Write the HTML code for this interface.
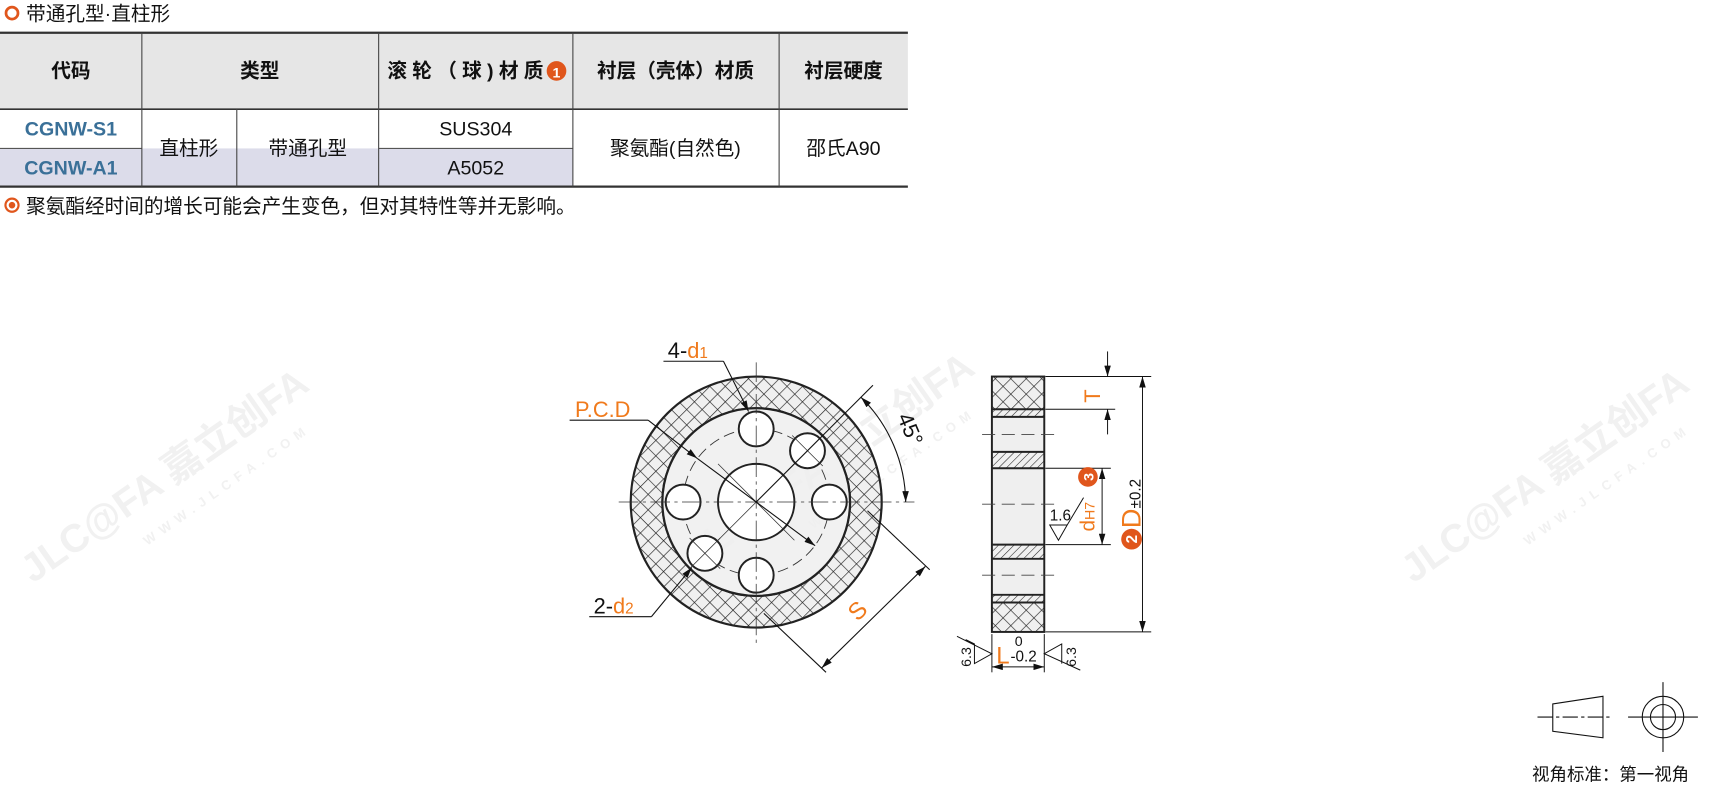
<!DOCTYPE html>
<html><head><meta charset="utf-8"><style>
html,body{margin:0;padding:0;background:#fff;}
svg{display:block;}
text{font-family:"Liberation Sans","Noto Sans CJK SC",sans-serif;}
</style></head><body>
<svg width="1711" height="788" viewBox="0 0 1568 722" preserveAspectRatio="none" xmlns="http://www.w3.org/2000/svg">
<defs>
<pattern id="xh" width="10" height="10" patternUnits="userSpaceOnUse" patternTransform="rotate(45)">
<rect width="10" height="10" fill="#f0f0f0"/>
<line x1="0" y1="0" x2="10" y2="0" stroke="#222" stroke-width="1.2"/>
<line x1="0" y1="0" x2="0" y2="10" stroke="#222" stroke-width="1.2"/>
</pattern>
<pattern id="hh" width="5" height="5" patternUnits="userSpaceOnUse" patternTransform="rotate(-45)">
<rect width="5" height="5" fill="#f0f0f0"/>
<line x1="0" y1="0" x2="5" y2="0" stroke="#222" stroke-width="1"/>
</pattern>
<marker id="ar" markerWidth="10" markerHeight="6" refX="10" refY="3" orient="auto" markerUnits="userSpaceOnUse">
<path d="M0,0 L10,3 L0,6 z" fill="#111"/></marker>
<marker id="as" markerWidth="10" markerHeight="6" refX="0" refY="3" orient="auto" markerUnits="userSpaceOnUse">
<path d="M10,0 L0,3 L10,6 z" fill="#111"/></marker>
</defs>

<circle cx="11" cy="12" r="5.5" fill="none" stroke="#e0561c" stroke-width="2.5"/>
<text x="24" y="19" font-size="18" fill="#111">带通孔型·直柱形</text>

<rect x="0" y="30" width="832" height="70" fill="#e6e6e6"/>
<rect x="0" y="136" width="525" height="35" fill="#dcdcea"/>
<line x1="0" y1="30" x2="832" y2="30" stroke="#333" stroke-width="2"/>
<line x1="0" y1="100" x2="832" y2="100" stroke="#333" stroke-width="1.5"/>
<line x1="0" y1="171" x2="832" y2="171" stroke="#333" stroke-width="2"/>
<line x1="0" y1="136" x2="130" y2="136" stroke="#555" stroke-width="1"/>
<line x1="347" y1="136" x2="525" y2="136" stroke="#555" stroke-width="1"/>
<g stroke="#444" stroke-width="1">
<line x1="130" y1="30" x2="130" y2="171"/>
<line x1="217" y1="100" x2="217" y2="171"/>
<line x1="347" y1="30" x2="347" y2="171"/>
<line x1="525" y1="30" x2="525" y2="171"/>
<line x1="714" y1="30" x2="714" y2="171"/>
</g>
<g font-size="18" font-weight="bold" fill="#111" text-anchor="middle">
<text x="65" y="71">代码</text>
<text x="238" y="71">类型</text>
<text x="619" y="71">衬层（壳体）材质</text>
<text x="773" y="71">衬层硬度</text>
</g>
<text x="355" y="71" font-size="18" font-weight="bold" fill="#111" textLength="143" lengthAdjust="spacing">滚轮（球)材质</text>
<circle cx="510" cy="65" r="9" fill="#e0561c"/>
<text x="510" y="71" font-size="13" font-weight="bold" fill="#fff" text-anchor="middle">1</text>
<g font-size="18" font-weight="bold" fill="#3a7098" text-anchor="middle">
<text x="65" y="124">CGNW-S1</text>
<text x="65" y="160">CGNW-A1</text>
</g>
<g font-size="18" fill="#111" text-anchor="middle">
<text x="173" y="142">直柱形</text>
<text x="282" y="142">带通孔型</text>
<text x="436" y="124">SUS304</text>
<text x="436" y="160">A5052</text>
<text x="619" y="142">聚氨酯(自然色)</text>
<text x="773" y="142">邵氏A90</text>
</g>

<circle cx="11" cy="188" r="6" fill="none" stroke="#e0561c" stroke-width="2"/>
<circle cx="11" cy="188" r="3" fill="#e0561c"/>
<text x="24" y="195" font-size="18" fill="#111">聚氨酯经时间的增长可能会产生变色，但对其特性等并无影响。</text>

<g fill="#f1f1f1" font-weight="bold">
<text x="0" y="0" font-size="36" transform="translate(30,535) rotate(-35)">JLC@FA 嘉立创FA</text>
<text x="0" y="0" font-size="12" transform="translate(135,500) rotate(-35)" letter-spacing="6">WWW.JLCFA.COM</text>
<text x="0" y="0" font-size="36" transform="translate(640,520) rotate(-35)">JLC@FA 嘉立创FA</text>
<text x="0" y="0" font-size="12" transform="translate(745,485) rotate(-35)" letter-spacing="6">WWW.JLCFA.COM</text>
<text x="0" y="0" font-size="36" transform="translate(1295,535) rotate(-35)">JLC@FA 嘉立创FA</text>
<text x="0" y="0" font-size="12" transform="translate(1400,500) rotate(-35)" letter-spacing="6">WWW.JLCFA.COM</text>
</g>

<path d="M578,460 a115,115 0 1,0 230,0 a115,115 0 1,0 -230,0 Z M607,460 a86,86 0 1,0 172,0 a86,86 0 1,0 -172,0 Z" fill="url(#xh)" fill-rule="evenodd" stroke="#222" stroke-width="2"/>
<circle cx="693" cy="460" r="86" fill="#efefef" fill-opacity="0.85" stroke="#222" stroke-width="2"/>
<circle cx="693" cy="460" r="67" fill="none" stroke="#333" stroke-width="0.8" stroke-dasharray="10,5"/>
<g fill="#fff" stroke="#222" stroke-width="1.8">
<circle cx="693" cy="460" r="35"/>
<circle cx="693" cy="393" r="16"/>
<circle cx="760" cy="460" r="16"/>
<circle cx="693" cy="527" r="16"/>
<circle cx="626" cy="460" r="16"/>
<circle cx="740" cy="413" r="16"/>
<circle cx="646" cy="507" r="16"/>
</g>
<g stroke="#333" stroke-width="0.7">
<line x1="567" y1="460" x2="838" y2="460" stroke-dasharray="18,4,3,4"/>
<line x1="693" y1="332" x2="693" y2="590" stroke-dasharray="18,4,3,4"/>
<line x1="658" y1="425" x2="728" y2="495"/>
<line x1="658" y1="495" x2="728" y2="425"/>
<line x1="726" y1="399" x2="754" y2="427"/><line x1="726" y1="427" x2="754" y2="399"/>
<line x1="632" y1="493" x2="660" y2="521"/><line x1="632" y1="521" x2="660" y2="493"/>
</g>
<g stroke="#111" stroke-width="1" fill="none">
<line x1="693" y1="460" x2="800" y2="353"/>
<path d="M789,364 A137,137 0 0,1 830,460" marker-start="url(#as)" marker-end="url(#ar)"/>
</g>
<text x="0" y="0" font-size="20" fill="#111" transform="translate(822,382) rotate(67)">45°</text>
<g stroke="#111" stroke-width="1">
<line x1="795" y1="468" x2="852" y2="522"/>
<line x1="700" y1="562" x2="757" y2="616"/>
<line x1="848" y1="519" x2="753" y2="612" marker-start="url(#as)" marker-end="url(#ar)"/>
</g>
<text x="0" y="0" font-size="22" fill="#f07a1c" transform="translate(786,570) rotate(-45)">S</text>
<g stroke="#111" stroke-width="1" fill="none">
<line x1="608" y1="331" x2="663" y2="331"/>
<line x1="663" y1="331" x2="686" y2="377" marker-end="url(#ar)"/>
<line x1="522" y1="385" x2="594" y2="385"/>
<line x1="594" y1="385" x2="639" y2="420" marker-end="url(#ar)"/>
<line x1="639" y1="420" x2="747" y2="500" marker-end="url(#ar)"/>
<line x1="540" y1="565" x2="597" y2="565"/>
<line x1="597" y1="565" x2="634" y2="520" marker-end="url(#ar)"/>
</g>
<text x="612" y="328" font-size="20" fill="#111">4-<tspan fill="#f07a1c">d<tspan font-size="14">1</tspan></tspan></text>
<text x="527" y="382" font-size="20" fill="#f07a1c">P.C.D</text>
<text x="544" y="562" font-size="20" fill="#111">2-<tspan fill="#f07a1c">d<tspan font-size="14">2</tspan></tspan></text>

<rect x="909" y="345" width="48" height="30" fill="url(#xh)"/>
<rect x="909" y="375" width="48" height="7" fill="url(#hh)"/>
<rect x="909" y="382" width="48" height="32" fill="#efefef"/>
<rect x="909" y="414" width="48" height="15" fill="url(#hh)"/>
<rect x="909" y="429" width="48" height="70" fill="#efefef"/>
<rect x="909" y="499" width="48" height="13" fill="url(#hh)"/>
<rect x="909" y="512" width="48" height="33" fill="#efefef"/>
<rect x="909" y="545" width="48" height="7" fill="url(#hh)"/>
<rect x="909" y="552" width="48" height="27" fill="url(#xh)"/>
<g stroke="#222" stroke-width="1.8" fill="none">
<rect x="909" y="345" width="48" height="234"/>
<line x1="909" y1="375" x2="957" y2="375"/><line x1="909" y1="382" x2="957" y2="382"/>
<line x1="909" y1="414" x2="957" y2="414"/><line x1="909" y1="429" x2="957" y2="429"/>
<line x1="909" y1="499" x2="957" y2="499"/><line x1="909" y1="512" x2="957" y2="512"/>
<line x1="909" y1="545" x2="957" y2="545"/><line x1="909" y1="552" x2="957" y2="552"/>
</g>
<g stroke="#444" stroke-width="0.8" stroke-dasharray="12,6">
<line x1="900" y1="398" x2="968" y2="398"/>
<line x1="900" y1="462" x2="968" y2="462"/>
<line x1="900" y1="527" x2="968" y2="527"/>
</g>
<g stroke="#111" stroke-width="0.9" fill="none">
<line x1="958" y1="345" x2="1055" y2="345"/>
<line x1="958" y1="375" x2="1022" y2="375"/>
<line x1="958" y1="429" x2="1018" y2="429"/>
<line x1="958" y1="499" x2="1018" y2="499"/>
<line x1="958" y1="579" x2="1055" y2="579"/>
<line x1="1015" y1="322" x2="1015" y2="345" marker-end="url(#ar)"/>
<line x1="1015" y1="398" x2="1015" y2="375" marker-end="url(#ar)"/>
<line x1="1010" y1="429" x2="1010" y2="499" marker-start="url(#as)" marker-end="url(#ar)"/>
<line x1="1047" y1="345" x2="1047" y2="579" marker-start="url(#as)" marker-end="url(#ar)"/>
<path d="M962,481 L978,481 L970,495 Z M978,481 L993,456"/>
<line x1="909" y1="581" x2="909" y2="616"/>
<line x1="957" y1="581" x2="957" y2="616"/>
<line x1="909" y1="611" x2="957" y2="611" marker-start="url(#as)" marker-end="url(#ar)"/>
<path d="M877,583 L909,599 L893,608 L893,590 L885,586"/>
<path d="M990,614 L957,599 L973,590 L973,608"/>
</g>
<text x="962" y="477" font-size="14" fill="#111">1.6</text>
<text x="0" y="0" font-size="20" fill="#f07a1c" transform="translate(1008,369) rotate(-90)">T</text>
<text x="0" y="0" font-size="19" fill="#f07a1c" transform="translate(1003,487) rotate(-90)">d<tspan font-size="13">H7</tspan></text>
<circle cx="997" cy="437" r="9" fill="#e0561c"/>
<text x="0" y="0" font-size="13" font-weight="bold" fill="#fff" transform="translate(1002,437) rotate(-90)" text-anchor="middle">3</text>
<text x="0" y="0" font-size="25" fill="#f07a1c" transform="translate(1045,484) rotate(-90)">D<tspan font-size="14" fill="#111">±0.2</tspan></text>
<circle cx="1037" cy="494" r="9.5" fill="#e0561c"/>
<text x="0" y="0" font-size="14" font-weight="bold" fill="#fff" transform="translate(1042,494) rotate(-90)" text-anchor="middle">2</text>
<text x="913" y="608" font-size="22" fill="#f07a1c">L</text>
<text x="930" y="592" font-size="13" fill="#111">0</text>
<text x="926" y="606" font-size="14" fill="#111">-0.2</text>
<text x="0" y="0" font-size="13" fill="#111" transform="translate(890,611) rotate(-90)">6.3</text>
<text x="0" y="0" font-size="13" fill="#111" transform="translate(986,611) rotate(-90)">6.3</text>

<g stroke="#111" stroke-width="1" fill="none">
<path d="M1423,645 L1469,638 L1469,676 L1423,670 Z"/>
<line x1="1409" y1="657" x2="1478" y2="657" stroke-dasharray="14,3,3,3"/>
<circle cx="1524" cy="657" r="19"/>
<circle cx="1524" cy="657" r="11.5"/>
<line x1="1492" y1="657" x2="1556" y2="657"/>
<line x1="1524" y1="625" x2="1524" y2="689"/>
</g>
<text x="1404" y="715" font-size="16" fill="#111">视角标准：第一视角</text>
</svg>
</body></html>
